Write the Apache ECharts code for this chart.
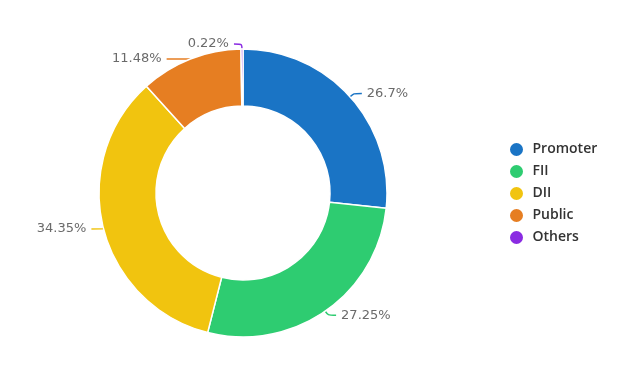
<!DOCTYPE html>
<html><head><meta charset="utf-8">
<script src="https://cdn.jsdelivr.net/npm/echarts@6/dist/echarts.min.js"></script>
<style>html,body{margin:0;padding:0;background:#fff}#c{width:624px;height:390px}</style>
</head><body><div id="c"></div>
<script>
var categories = ['Promoter', 'FII', 'DII', 'Public', 'Others'];
var values = [26.7, 27.25, 34.35, 11.48, 0.22];
var colors = ['#1a74c5', '#2ecc71', '#f1c40f', '#e67e22', '#8a2be2'];

var chart = echarts.init(document.getElementById('c'), null, {renderer: 'canvas'});
chart.setOption({
  animation: false,
  color: colors,
  legend: {
    orient: 'vertical',
    left: 503, top: 136,
    icon: 'circle',
    itemWidth: 22, itemHeight: 15,
    itemGap: 5,
    textStyle: {fontFamily: 'Open Sans', fontSize: 14, fontWeight: 600, color: '#333'},
    data: categories
  },
  series: [{
    type: 'pie',
    center: [243, 193],
    radius: [87, 144],
    startAngle: 90,
    clockwise: true,
    itemStyle: {borderColor: '#fff', borderWidth: 1.5},
    label: {
      formatter: '{c}%',
      color: '#6a6a6a',
      fontFamily: 'DejaVu Sans',
      fontSize: 13
    },
    labelLine: {length: 5, length2: 8, smooth: true, lineStyle: {width: 1.5}},
    data: categories.map(function (n, i) {
      var d = {name: n, value: values[i]};
      if (n === 'Public') d.labelLine = {length2: 16};
      if (n === 'DII') d.labelLine = {length2: 12};
      return d;
    })
  }]
});
</script></body></html>
